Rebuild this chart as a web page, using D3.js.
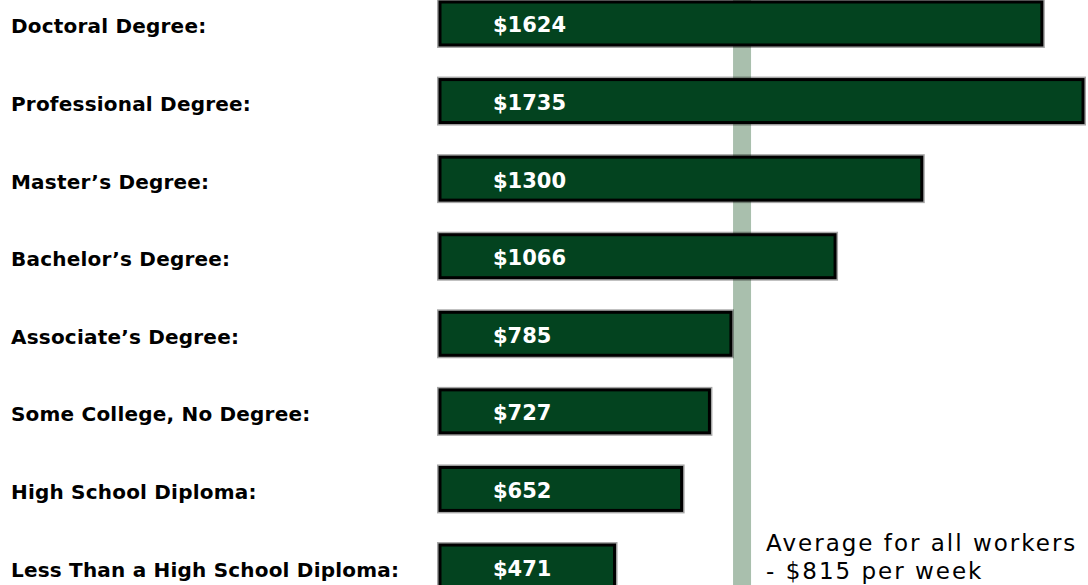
<!DOCTYPE html>
<html>
<head>
<meta charset="utf-8">
<script src="https://cdn.jsdelivr.net/npm/d3@7"></script>
<style>
  html, body { margin: 0; padding: 0; background: #fff; }
  svg { display: block; }
</style>
</head>
<body>
<div id="chart"></div>
<script>
// Median weekly earnings by education level
const degrees = [
  "Doctoral Degree:",
  "Professional Degree:",
  "Master’s Degree:",
  "Bachelor’s Degree:",
  "Associate’s Degree:",
  "Some College, No Degree:",
  "High School Diploma:",
  "Less Than a High School Diploma:"
];
const earnings = [1624, 1735, 1300, 1066, 785, 727, 652, 471];
const averageEarnings = 815;
const averageLines = ["Average for all workers", "- $815 per week"];

const drawChart = () => {

  /*******************************/
  /*    Declare the constants    */
  /*******************************/
  const width = 1088;
  const height = 585;
  const barColor = "#03431f";
  const avgColor = "#a9bfad";
  const data = degrees.map((d, i) => ({degree: d, value: earnings[i]}));

  const svg = d3.select("#chart")
    .append("svg")
      .attr("width", width)
      .attr("height", height)
      .attr("viewBox", `0 0 ${width} ${height}`);

  /****************************/
  /*    Declare the scales    */
  /****************************/
  const xScale = d3.scaleLinear()
    .domain([0, d3.max(earnings)])
    .range([440, 1083]);

  const yScale = d3.scaleBand()
    .domain(degrees)
    .range([2, 588])
    .paddingInner(0.446)
    .paddingOuter(0);

  /******************************/
  /*    Average workers line    */
  /******************************/
  svg
    .append("rect")
      .attr("x", xScale(averageEarnings) - 9)
      .attr("y", 0)
      .attr("width", 18)
      .attr("height", height)
      .attr("fill", avgColor);

  /**************************/
  /*      Add the bars      */
  /**************************/
  const rows = svg
    .selectAll(".row")
    .data(data)
    .join("g")
      .attr("class", "row");

  // soft grey edge around each bar
  rows
    .append("rect")
      .attr("x", xScale(0))
      .attr("y", d => yScale(d.degree))
      .attr("width", d => xScale(d.value) - xScale(0))
      .attr("height", yScale.bandwidth())
      .attr("fill", "none")
      .attr("stroke", "rgba(0,0,0,0.35)")
      .attr("stroke-width", 6);

  rows
    .append("rect")
      .attr("x", xScale(0))
      .attr("y", d => yScale(d.degree))
      .attr("width", d => xScale(d.value) - xScale(0))
      .attr("height", yScale.bandwidth())
      .attr("fill", barColor)
      .attr("stroke", "#000")
      .attr("stroke-width", 3);

  rows
    .append("text")
      .text(d => `$${d.value}`)
      .attr("x", xScale(0) + 53)
      .attr("y", d => yScale(d.degree) + yScale.bandwidth() / 2 + 2)
      .attr("dominant-baseline", "central")
      .attr("fill", "#fff")
      .attr("font-family", "DejaVu Sans, sans-serif")
      .attr("font-weight", "bold")
      .attr("font-size", 21);

  // category labels
  rows
    .append("text")
      .text(d => d.degree)
      .attr("x", 11)
      .attr("y", d => yScale(d.degree) + yScale.bandwidth() / 2 + 3)
      .attr("dominant-baseline", "central")
      .attr("fill", "#000")
      .attr("font-family", "DejaVu Sans, sans-serif")
      .attr("font-weight", "bold")
      .attr("font-size", 20)
      .attr("letter-spacing", 0.2);

  /******************************/
  /*    Average annotation      */
  /******************************/
  svg
    .append("text")
      .attr("font-family", "DejaVu Sans, sans-serif")
      .attr("font-size", 23)
      .attr("letter-spacing", 2)
      .attr("fill", "#000")
    .selectAll("tspan")
    .data(averageLines)
    .join("tspan")
      .attr("x", xScale(averageEarnings) + 24)
      .attr("y", (d, i) => 551 + i * 28)
      .text(d => d);
};

drawChart();
</script>
</body>
</html>
